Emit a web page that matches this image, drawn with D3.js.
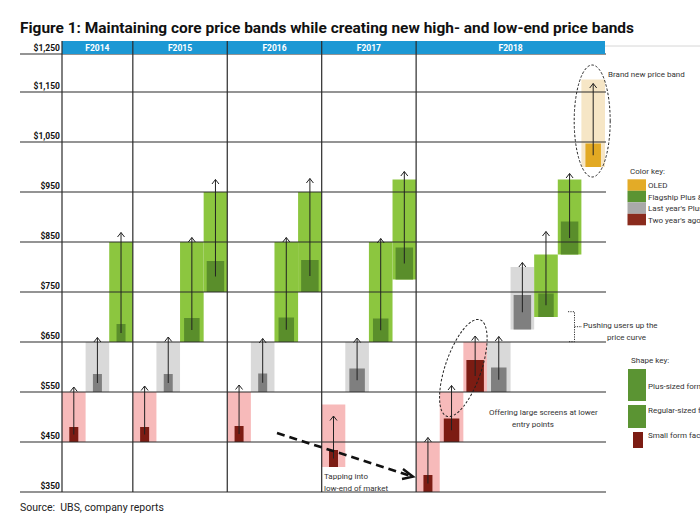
<!DOCTYPE html>
<html lang="en">
  <head>
    <meta charset="UTF-8" />
    <title>Core price bands</title>
    <style>
      body {
        margin: 0;
        background: #fff;
      }
      svg {
        display: block;
        font-family: Roboto, "Open Sans", sans-serif;
      }
      .note {
        font-size: 8px;
        fill: #333;
      }
    </style>
  </head>
  <body>
    <script src="https://cdn.jsdelivr.net/npm/d3@7"></script>
    <script>
      var years = ["F2014", "F2015", "F2016", "F2017", "F2018"];
      var slotsPerYear = [3, 4, 4, 4, 8];
      var priceTicks = [350, 450, 550, 650, 750, 850, 950, 1050, 1150, 1250];

      // year, colour group, form factor, band low, band high, price, arrow top
      var bars = [
        ["F2014", "two", "small", 450, 550, 480, 560],
        ["F2014", "last", "small", 550, 650, 586, 659],
        ["F2014", "flag", "small", 650, 850, 686, 869],

        ["F2015", "two", "small", 450, 550, 480, 562],
        ["F2015", "last", "small", 550, 650, 586, 660],
        ["F2015", "flag", "regular", 650, 850, 698, 859],
        ["F2015", "flag", "plus", 750, 950, 812, 975],

        ["F2016", "two", "small", 450, 550, 482, 564],
        ["F2016", "last", "small", 550, 650, 587, 657],
        ["F2016", "flag", "regular", 650, 850, 699, 859],
        ["F2016", "flag", "plus", 750, 950, 814, 977],

        ["F2017", "two", "small", 400, 525, 434, 502],
        ["F2017", "last", "regular", 550, 650, 597, 658],
        ["F2017", "flag", "regular", 650, 850, 697, 857],
        ["F2017", "flag", "plus", 775, 975, 839, 991],

        ["F2018", "two", "small", 350, 450, 384, 459],
        ["F2018", "two", "regular", 450, 550, 497, 563],
        ["F2018", "two", "plus", 550, 650, 614, 662],
        ["F2018", "last", "regular", 550, 650, 599, 661],
        ["F2018", "last", "plus", 675, 800, 744, 809],
        ["F2018", "flag", "regular", 700, 825, 747, 871],
        ["F2018", "flag", "plus", 825, 975, 891, 987],
        ["F2018", "oled", "regular", 1000, 1175, 1047, 1167]
      ];

      var colorKeys = ["oled", "flag", "last", "two"];
      var colorLabels = ["OLED", "Flagship Plus & regular", "Last year's Plus & regular", "Two year's ago Plus & regular"];
      var shapeKeys = ["plus", "regular", "small"];
      var shapeLabels = ["Plus-sized form factor", "Regular-sized form factor", "Small form factor"];

      var lightFill = { oled: "#f6e6c6", flag: "#8cc63f", last: "#d9d9d9", two: "#f7baba" };
      var darkFill = { oled: "#e2a923", flag: "#5a8e2b", last: "#7f7f7f", two: "#7c1c13" };
      var keyFill = { oled: "#e3ab27", flag: "#5b9433", last: "#a9a9a9", two: "#8a2b1d" };
      var formWidth = { plus: 17.5, regular: 15.5, small: 9 };

      var W = 700, H = 525;
      var plotLeft = 62, plotRight = 605, headTop = 41, headBottom = 54, plotBottom = 492;
      var lineColor = "#2b2b2b";

      var svg = d3.select("body").append("svg").attr("width", W).attr("height", H);

      // slot layout: each year gets a run of equal-width slots
      var totalSlots = d3.sum(slotsPerYear);
      var x = d3.scaleBand().domain(d3.range(totalSlots)).range([plotLeft, plotRight]);
      var y = d3.scaleLinear().domain([350, 1250]).range([plotBottom, 42]);

      var yearStart = {};
      var acc = 0;
      years.forEach(function(yr, i) {
        yearStart[yr] = acc;
        acc += slotsPerYear[i];
      });
      var used = {};
      bars.forEach(function(b) {
        used[b[0]] = used[b[0]] || 0;
        b.slot = yearStart[b[0]] + used[b[0]];
        used[b[0]] += 1;
      });
      function xc(s) {
        return x(s) + x.bandwidth() / 2;
      }

      // title
      svg
        .append("text")
        .attr("x", 20)
        .attr("y", 33)
        .attr("font-size", 15.5)
        .attr("font-weight", "bold")
        .attr("fill", "#111")
        .attr("textLength", 614)
        .attr("lengthAdjust", "spacingAndGlyphs")
        .text("Figure 1: Maintaining core price bands while creating new high- and low-end price bands");

      svg.append("line")
        .attr("x1", plotRight).attr("x2", W).attr("y1", 46).attr("y2", 46)
        .attr("stroke", "#ccc").attr("stroke-width", 0.8);

      // light price bands
      svg.append("g")
        .selectAll("rect")
        .data(bars)
        .join("rect")
        .attr("x", function(d) { return x(d.slot); })
        .attr("width", x.bandwidth())
        .attr("y", function(d) { return y(d[4]); })
        .attr("height", function(d) { return y(d[3]) - y(d[4]); })
        .attr("fill", function(d) { return lightFill[d[1]]; });

      // actual price boxes
      svg.append("g")
        .selectAll("rect")
        .data(bars)
        .join("rect")
        .attr("x", function(d) { return xc(d.slot) - formWidth[d[2]] / 2; })
        .attr("width", function(d) { return formWidth[d[2]]; })
        .attr("y", function(d) { return y(d[5]); })
        .attr("height", function(d) { return y(d[3]) - y(d[5]); })
        .attr("fill", function(d) { return darkFill[d[1]]; });

      // horizontal grid with labels
      var axis = d3.axisLeft(y)
        .tickValues(priceTicks)
        .tickSize(plotRight + 1 - 20)
        .tickFormat(function(d) { return "$" + d3.format(",")(d); });

      var ag = svg.append("g").attr("transform", "translate(" + (plotRight + 1) + ",0)").call(axis);
      ag.select(".domain").remove();
      ag.selectAll(".tick")
        .attr("transform", function(d) { return "translate(0," + Math.max(y(d), headBottom) + ")"; });
      ag.selectAll(".tick line").attr("stroke", lineColor).attr("stroke-width", 1.2);
      ag.selectAll(".tick text")
        .attr("x", plotLeft - 2 - (plotRight + 1))
        .attr("dy", -3)
        .attr("font-size", 8.5)
        .attr("font-weight", "bold")
        .attr("fill", "#111")
        .attr("font-family", "Roboto, sans-serif");

      // header band
      svg.append("rect")
        .attr("x", plotLeft).attr("y", headTop)
        .attr("width", plotRight - plotLeft).attr("height", headBottom - headTop)
        .attr("fill", "#1c98d4");

      var edges = years.map(function(yr) { return x(yearStart[yr]); }).concat([plotRight]);

      svg.append("g")
        .selectAll("line")
        .data(edges.slice(0, -1))
        .join("line")
        .attr("x1", function(d) { return d; })
        .attr("x2", function(d) { return d; })
        .attr("y1", headTop)
        .attr("y2", plotBottom)
        .attr("stroke", lineColor)
        .attr("stroke-width", 1.2);

      svg.append("g")
        .selectAll("text")
        .data(years)
        .join("text")
        .attr("x", function(d, i) { return (edges[i] + edges[i + 1]) / 2; })
        .attr("y", 51)
        .attr("text-anchor", "middle")
        .attr("font-size", 8.5)
        .attr("font-weight", "bold")
        .attr("fill", "#fff")
        .text(function(d) { return d; });

      // arrows
      var ar = svg.append("g").attr("stroke", "#222").attr("fill", "none").attr("stroke-width", 1);
      ar.selectAll("line")
        .data(bars)
        .join("line")
        .attr("x1", function(d) { return xc(d.slot); })
        .attr("x2", function(d) { return xc(d.slot); })
        .attr("y1", function(d) { return (y(d[5]) + y(d[3])) / 2; })
        .attr("y2", function(d) { return y(d[6]); });
      ar.selectAll("path")
        .data(bars)
        .join("path")
        .attr("d", function(d) {
          var cx = xc(d.slot), ty = y(d[6]);
          return "M" + (cx - 3.5) + "," + (ty + 4.5) + "L" + cx + "," + ty + "L" + (cx + 3.5) + "," + (ty + 4.5);
        });

      // annotations
      var oled = bars[bars.length - 1];
      svg.append("ellipse")
        .attr("cx", xc(oled.slot) - 1)
        .attr("cy", y(1092))
        .attr("rx", 18)
        .attr("ry", 56)
        .attr("fill", "none")
        .attr("stroke", "#222")
        .attr("stroke-width", 1)
        .attr("stroke-dasharray", "2.5,1.8");
      svg.append("text").attr("class", "note").attr("x", 608).attr("y", 76.5).text("Brand new price band");

      var ox = (xc(bars[16].slot) + xc(bars[17].slot)) / 2, oy = y(598);
      svg.append("ellipse")
        .attr("transform", "translate(" + ox + "," + oy + ") rotate(19)")
        .attr("rx", 18)
        .attr("ry", 51)
        .attr("fill", "none")
        .attr("stroke", "#222")
        .attr("stroke-width", 1)
        .attr("stroke-dasharray", "2.5,1.8");
      svg.append("text").attr("class", "note").attr("x", 489).attr("y", 414.5).text("Offering large screens at lower");
      svg.append("text").attr("class", "note").attr("x", 512).attr("y", 427).text("entry points");

      svg.append("path")
        .attr("d", "M568,311.7H574.5V341.7H568M574.5,326.7H582")
        .attr("fill", "none")
        .attr("stroke", "#333")
        .attr("stroke-width", 1)
        .attr("stroke-dasharray", "1.2,1.2");
      svg.append("text").attr("class", "note").attr("x", 583).attr("y", 328).text("Pushing users up the");
      svg.append("text").attr("class", "note").attr("x", 607).attr("y", 340).text("price curve");

      svg.append("line")
        .attr("x1", 277).attr("y1", 433).attr("x2", 411).attr("y2", 476)
        .attr("stroke", "#111").attr("stroke-width", 2.6).attr("stroke-dasharray", "8,5");
      svg.append("path")
        .attr("d", "M403,469L413,476.7L402,479")
        .attr("fill", "none").attr("stroke", "#111").attr("stroke-width", 2.4);
      svg.append("text").attr("class", "note").attr("x", 324).attr("y", 478.5).text("Tapping into");
      svg.append("text").attr("class", "note").attr("x", 324).attr("y", 490.5).text("low-end of market");

      // colour key (right edge crops the long labels, as in the source figure)
      svg.append("text").attr("class", "note").attr("x", 630).attr("y", 174).text("Color key:");
      var ck = svg.append("g");
      ck.selectAll("rect")
        .data(colorKeys)
        .join("rect")
        .attr("x", 627.5)
        .attr("y", function(d, i) { return 179.3 + i * 11.5; })
        .attr("width", 18.5)
        .attr("height", 11.5)
        .attr("fill", function(d) { return keyFill[d]; });
      ck.selectAll("text")
        .data(colorLabels)
        .join("text")
        .attr("class", "note")
        .attr("x", 648)
        .attr("y", function(d, i) { return 188.3 + i * 11.5; })
        .text(function(d) { return d; });

      // shape key
      svg.append("text").attr("class", "note").attr("x", 631).attr("y", 363).text("Shape key:");
      var shapeBox = {
        plus: [628, 369, 18, 32, keyFill.flag],
        regular: [628, 405, 18, 23, keyFill.flag],
        small: [633, 432, 10, 16, darkFill.two]
      };
      var sk = svg.append("g");
      sk.selectAll("rect")
        .data(shapeKeys)
        .join("rect")
        .attr("x", function(d) { return shapeBox[d][0]; })
        .attr("y", function(d) { return shapeBox[d][1]; })
        .attr("width", function(d) { return shapeBox[d][2]; })
        .attr("height", function(d) { return shapeBox[d][3]; })
        .attr("fill", function(d) { return shapeBox[d][4]; });
      sk.selectAll("text")
        .data(shapeLabels)
        .join("text")
        .attr("class", "note")
        .attr("x", 648)
        .attr("y", function(d, i) { return [388.5, 413, 437.5][i]; })
        .text(function(d) { return d; });

      svg.append("text")
        .attr("x", 20)
        .attr("y", 510.5)
        .attr("font-size", 10.5)
        .attr("fill", "#222")
        .attr("xml:space", "preserve")
        .text("Source:  UBS, company reports");
    </script>
  </body>
</html>
